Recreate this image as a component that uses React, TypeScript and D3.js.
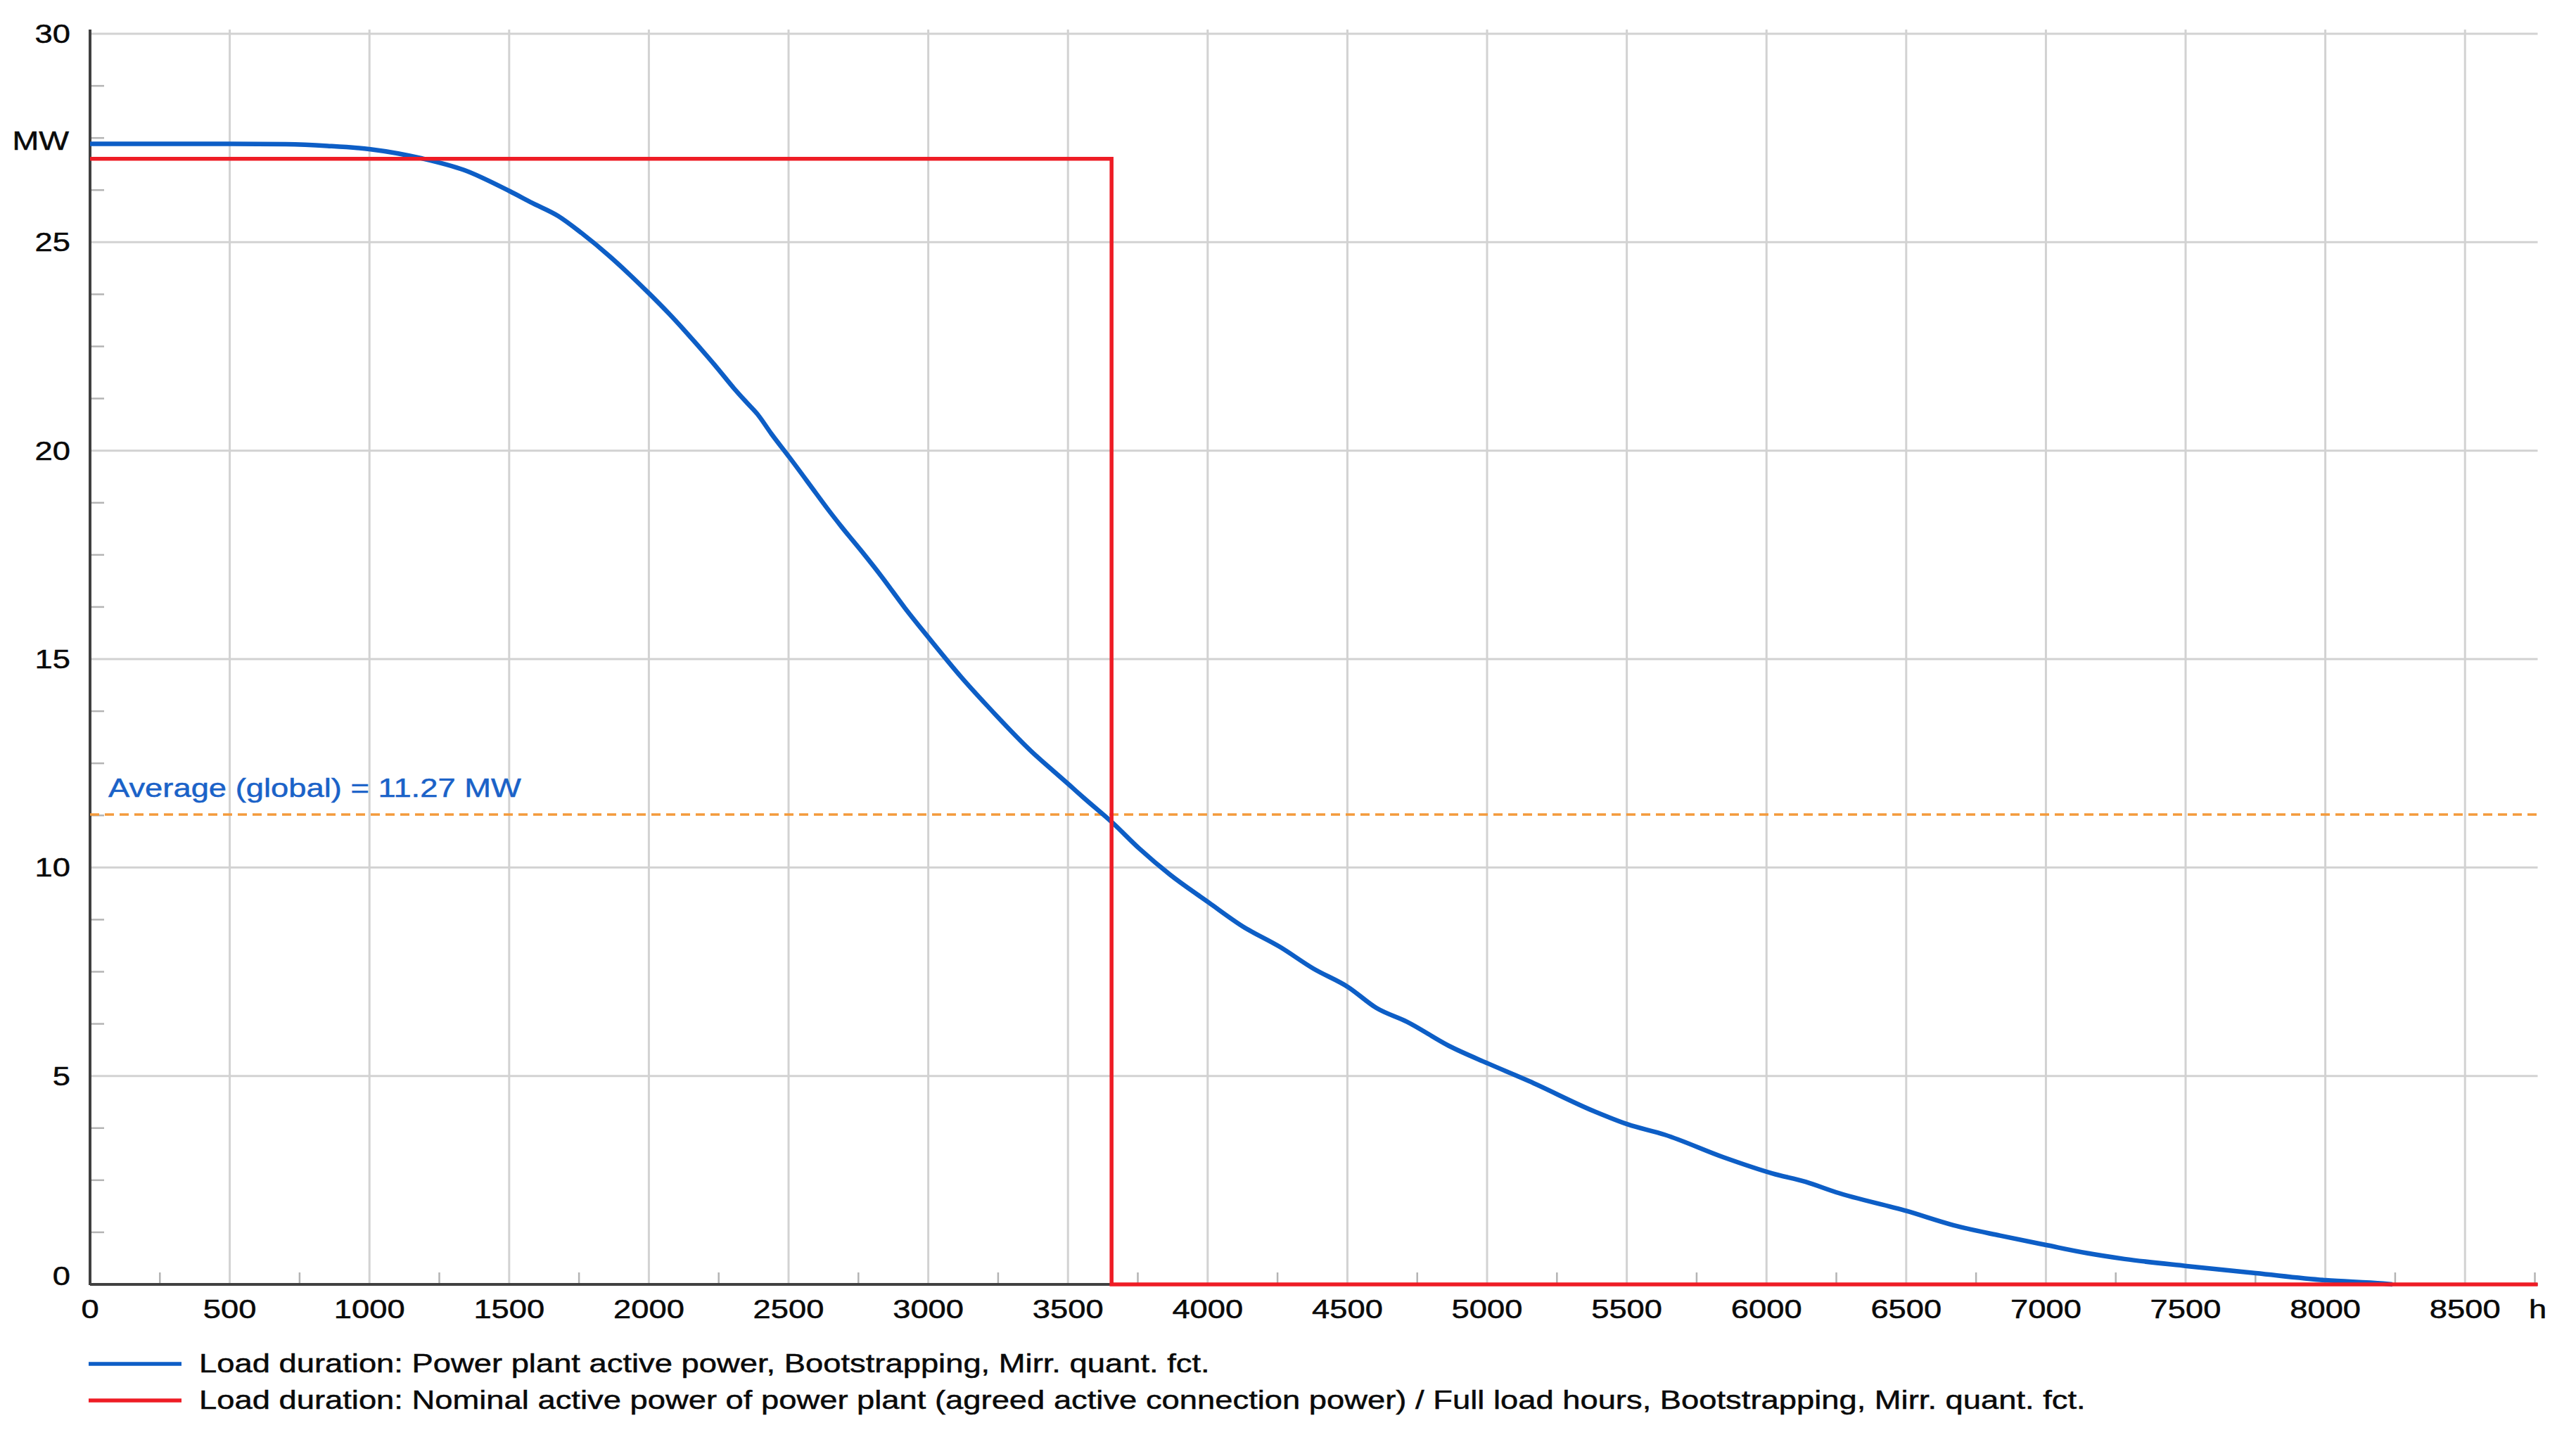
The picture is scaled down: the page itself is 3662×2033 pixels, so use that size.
import React, { useEffect } from 'react';
import * as d3 from 'd3';

// ---- data ----
const hoursDomain = [0, 8760];
const mwDomain = [0, 30];
const xTickValues = [0, 500, 1000, 1500, 2000, 2500, 3000, 3500, 4000, 4500, 5000, 5500, 6000, 6500, 7000, 7500, 8000, 8500];
const xMinorTicks = [250, 750, 1250, 1750, 2250, 2750, 3250, 3750, 4250, 4750, 5250, 5750, 6250, 6750, 7250, 7750, 8250, 8750];
const yTickValues = [0, 5, 10, 15, 20, 25, 30];
const yMinorTicks = [1.25, 2.5, 3.75, 6.25, 7.5, 8.75, 11.25, 12.5, 13.75, 16.25, 17.5, 18.75, 21.25, 22.5, 23.75, 26.25, 27.5, 28.75];

const loadHours = [0, 500, 700, 850, 1004, 1188, 1339, 1503, 1583, 1675, 1759, 1860, 1927, 2004, 2070, 2128, 2245, 2304, 2355, 2388, 2439, 2503, 2598, 2640, 2690, 2766, 2833, 2917, 3003, 3119, 3211, 3370, 3454, 3505, 3555, 3660, 3756, 3865, 4004, 4125, 4260, 4377, 4503, 4604, 4713, 4864, 5003, 5149, 5384, 5503, 5636, 5846, 6022, 6140, 6249, 6502, 6669, 6836, 7004, 7147, 7281, 7504, 7751, 8002, 8207, 8240];
const loadMW = [27.36, 27.36, 27.35, 27.31, 27.23, 27.01, 26.73, 26.22, 25.94, 25.63, 25.22, 24.66, 24.25, 23.75, 23.30, 22.88, 21.98, 21.50, 21.12, 20.88, 20.40, 19.84, 18.98, 18.60, 18.17, 17.55, 16.98, 16.22, 15.50, 14.56, 13.88, 12.78, 12.28, 11.98, 11.68, 11.07, 10.45, 9.83, 9.16, 8.59, 8.09, 7.58, 7.13, 6.63, 6.30, 5.72, 5.30, 4.88, 4.15, 3.84, 3.59, 3.05, 2.66, 2.46, 2.21, 1.76, 1.42, 1.17, 0.94, 0.75, 0.61, 0.44, 0.27, 0.10, 0.02, 0];

const nominalMW = 27.0;
const fullLoadHours = 3656;
const averageMW = 11.27;
const averageLabel = 'Average (global) = 11.27 MW';
const yUnit = 'MW';
const xUnit = 'h';
const legendLabels = [
  'Load duration: Power plant active power, Bootstrapping, Mirr. quant. fct.',
  'Load duration: Nominal active power of power plant (agreed active connection power) / Full load hours, Bootstrapping, Mirr. quant. fct.',
];

// ---- style ----
const W = 3662;
const H = 2033;
const BLUE = '#0d5ec6';
const RED = '#ee1c25';
const ORANGE = '#f39a3c';
const GRID = '#d2d2d2';
const FONT = '"Liberation Sans", Arial, sans-serif';
const FS = 37;
const SX = 1.226;

function Txt({ x, y, anchor = 'start', fill = '#0a0a0a', children }: any) {
  return (
    <text
      transform={`translate(${x},${y}) scale(${SX},1)`}
      textAnchor={anchor}
      fill={fill}
      stroke={fill}
      strokeWidth={0.5}
      fontFamily={FONT}
      fontSize={FS}
    >
      {children}
    </text>
  );
}

export default function App() {
  useEffect(() => {
    document.body.style.margin = '0';
    document.body.style.overflow = 'hidden';
  }, []);

  const x = d3.scaleLinear().domain(hoursDomain).range([128, 3607.5]);
  const y = d3.scaleLinear().domain(mwDomain).range([1826, 48]);

  const loadData = loadHours.map((h, i) => [h, loadMW[i]] as [number, number]);
  const nominalData: [number, number][] = [
    [hoursDomain[0], nominalMW],
    [fullLoadHours, nominalMW],
    [fullLoadHours, 0],
    [hoursDomain[1], 0],
  ];

  const line = d3
    .line<[number, number]>()
    .x((d) => x(d[0]))
    .y((d) => y(d[1]));
  const smooth = d3
    .line<[number, number]>()
    .x((d) => x(d[0]))
    .y((d) => y(d[1]))
    .curve(d3.curveMonotoneX);

  const x0 = x(hoursDomain[0]);
  const x1 = x(hoursDomain[1]);
  const yTop = y(mwDomain[1]);
  const yBot = y(0);

  return (
    <svg
      width={W}
      height={H}
      style={{ position: 'absolute', left: 0, top: 0, display: 'block', background: '#fff' }}
    >
      {/* horizontal grid */}
      {yTickValues.filter((v) => v > 0).map((v) => (
        <line key={'hg' + v} x1={x0} x2={x1} y1={y(v)} y2={y(v)} stroke={GRID} strokeWidth={3} />
      ))}
      {/* vertical grid */}
      {xTickValues.filter((v) => v > 0).map((v) => (
        <line key={'vg' + v} x1={x(v)} x2={x(v)} y1={yTop - 6} y2={yBot} stroke={GRID} strokeWidth={3} />
      ))}
      {/* minor ticks */}
      {yMinorTicks.map((v) => (
        <line key={'ym' + v} x1={x0} x2={x0 + 20} y1={y(v)} y2={y(v)} stroke="#b4b4b4" strokeWidth={2.5} />
      ))}
      {xMinorTicks.map((v) => (
        <line key={'xm' + v} x1={x(v)} x2={x(v)} y1={yBot} y2={yBot - 17} stroke="#b4b4b4" strokeWidth={2.5} />
      ))}
      {/* axes */}
      <line x1={x0} x2={x0} y1={yTop - 6} y2={yBot + 1} stroke="#404040" strokeWidth={4} />
      <line x1={x0} x2={x1} y1={yBot} y2={yBot} stroke="#404040" strokeWidth={4} />

      {/* average */}
      <line
        x1={x0}
        x2={x1}
        y1={y(averageMW)}
        y2={y(averageMW)}
        stroke={ORANGE}
        strokeWidth={3.5}
        strokeDasharray="13 8"
      />
      <Txt x={154} y={y(averageMW) - 25} fill="#1a62c8">
        {averageLabel}
      </Txt>

      {/* series */}
      <path d={smooth(loadData) || ''} fill="none" stroke={BLUE} strokeWidth={6.5} strokeLinejoin="round" />
      <path d={line(nominalData) || ''} fill="none" stroke={RED} strokeWidth={5.5} />

      {/* y tick labels */}
      {yTickValues.map((v) => (
        <Txt key={'yl' + v} x={100} y={v === 0 ? yBot + 1 : y(v) + 13} anchor="end">
          {String(v)}
        </Txt>
      ))}
      <Txt x={98} y={213} anchor="end">
        {yUnit}
      </Txt>

      {/* x tick labels */}
      {xTickValues.map((v) => (
        <Txt key={'xl' + v} x={x(v)} y={1874} anchor="middle">
          {String(v)}
        </Txt>
      ))}
      <Txt x={x1} y={1874} anchor="middle">
        {xUnit}
      </Txt>

      {/* legend */}
      {legendLabels.map((lab, i) => (
        <g key={'lg' + i}>
          <line
            x1={126}
            x2={258}
            y1={1939 + i * 52}
            y2={1939 + i * 52}
            stroke={i === 0 ? BLUE : RED}
            strokeWidth={5.5}
          />
          <Txt x={283} y={1951 + i * 52}>
            {lab}
          </Txt>
        </g>
      ))}
    </svg>
  );
}
